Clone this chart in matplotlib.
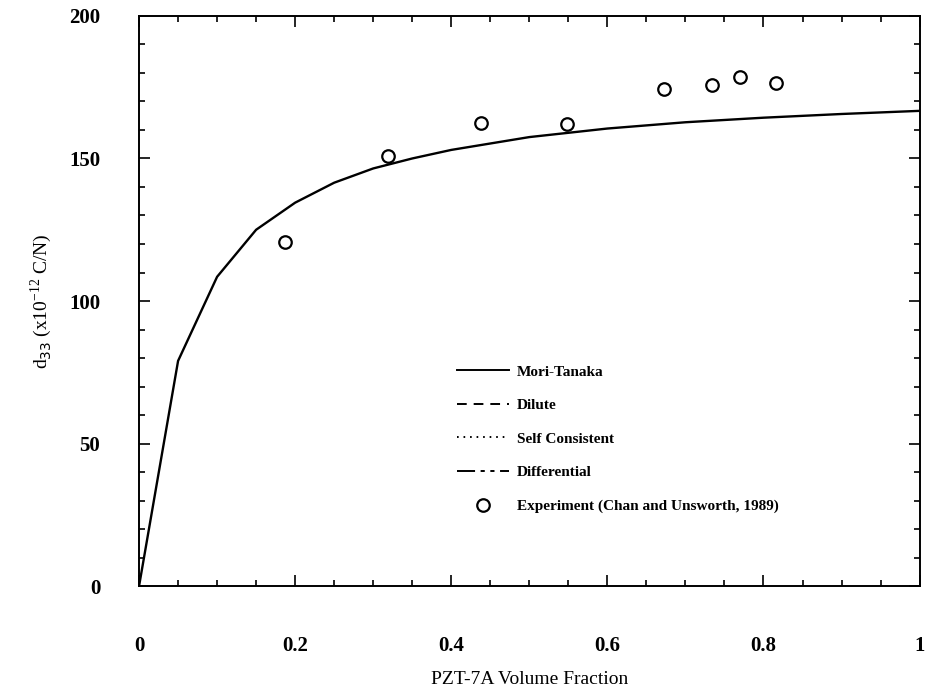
import matplotlib
matplotlib.use("Agg")
import matplotlib.pyplot as plt
from matplotlib.lines import Line2D
from matplotlib.ticker import MultipleLocator
import numpy as np

# Mori-Tanaka prediction
vf_model = [0, 0.05, 0.1, 0.15, 0.2, 0.25, 0.3, 0.35, 0.4, 0.5, 0.6, 0.7, 0.8, 0.9, 1.0]
d33_mt = [0, 79, 108.5, 125, 134.5, 141.5, 146.5, 150, 153, 157.5, 160.5, 162.7, 164.3, 165.6, 166.7]

# experiment (Chan and Unsworth, 1989)
vf_exp = [0.187, 0.319, 0.438, 0.548, 0.673, 0.734, 0.770, 0.816]
d33_exp = [120.8, 150.9, 162.3, 162.1, 174.4, 175.6, 178.4, 176.5]

plt.rcParams['font.family'] = ['Liberation Serif', 'DejaVu Serif']
plt.rcParams['lines.scale_dashes'] = False

fig = plt.figure(figsize=(9.27, 6.92), dpi=100)
ax = fig.add_axes([0.150, 0.153, 0.842, 0.824])

ax.plot(vf_model, d33_mt, color='black', lw=1.7)
ax.plot(vf_exp, d33_exp, 'o', ms=9, mfc='none', mec='black', mew=1.6)

ax.set_xlim(0, 1)
ax.set_ylim(0, 200)
ax.xaxis.set_major_locator(MultipleLocator(0.2))
ax.xaxis.set_minor_locator(MultipleLocator(0.05))
ax.yaxis.set_major_locator(MultipleLocator(50))
ax.yaxis.set_minor_locator(MultipleLocator(10))
ax.set_xticks([0, 0.2, 0.4, 0.6, 0.8, 1.0])
ax.set_xticklabels(['0', '0.2', '0.4', '0.6', '0.8', '1'])
ax.tick_params(which='both', direction='in', top=True, right=True, width=1.2)
ax.tick_params(which='major', length=8, labelsize=15)
ax.tick_params(which='minor', length=4)
ax.tick_params(axis='x', which='major', pad=36)
ax.tick_params(axis='y', which='major', pad=28)
for lab in ax.get_xticklabels() + ax.get_yticklabels():
    lab.set_fontweight('bold')
for s in ax.spines.values():
    s.set_linewidth(1.4)

ax.set_xlabel('PZT-7A Volume Fraction', fontsize=14, labelpad=11)
ax.set_ylabel(r'd$_{33}$ (x10$^{\mathregular{-12}}$ C/N)', fontsize=14, labelpad=11)

handles = [
    Line2D([], [], color='black', lw=1.4, ls='-'),
    Line2D([], [], color='black', lw=1.4, ls=(0, (7, 5))),
    Line2D([], [], color='black', lw=1.4, ls=(0, (1.2, 3.5))),
    Line2D([], [], color='black', lw=1.4, ls=(0, (13, 4, 3, 4, 3, 4))),
    Line2D([], [], color='black', marker='o', ls='none', ms=9, mfc='none', mew=1.6),
]
labels = ['Mori-Tanaka', 'Dilute', 'Self Consistent', 'Differential',
          'Experiment (Chan and Unsworth, 1989)']
leg = ax.legend(handles, labels, loc='upper left', bbox_to_anchor=(0.39, 0.412),
                frameon=False, handlelength=3.4, labelspacing=1.3, handletextpad=0.5,
                prop={'size': 11, 'weight': 'bold'})

fig.savefig('out.png', dpi=100)
